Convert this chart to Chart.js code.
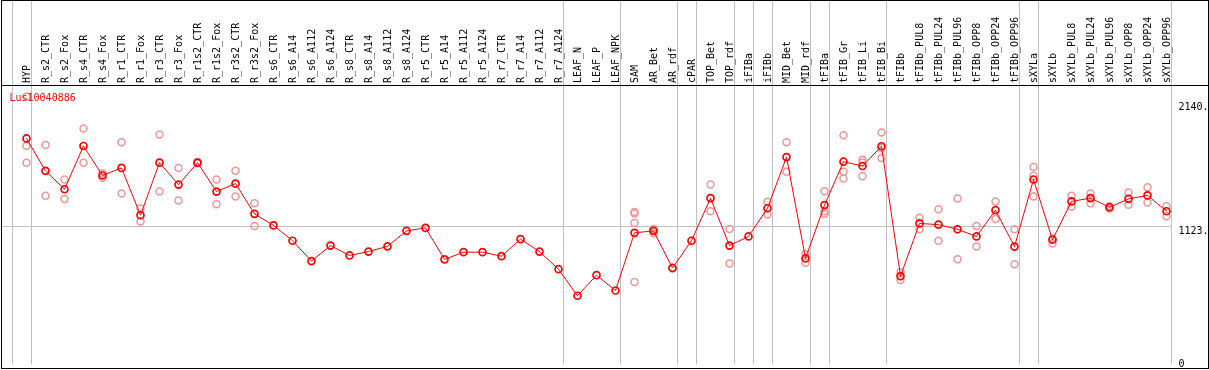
<!DOCTYPE html>
<html>
<head>
<meta charset="utf-8">
<script src="https://cdn.jsdelivr.net/npm/chart.js@4.4.1/dist/chart.umd.min.js"></script>
<style>
  html, body { margin: 0; padding: 0; background: #fff; }
  #wrap { width: 1209px; height: 370px; }
</style>
</head>
<body>
<div id="wrap"><canvas id="c" width="1209" height="370"></canvas></div>
<script>
const categories = ["HYP","R_s2_CTR","R_s2_Fox","R_s4_CTR","R_s4_Fox","R_r1_CTR","R_r1_Fox","R_r3_CTR","R_r3_Fox","R_r1s2_CTR","R_r1s2_Fox","R_r3s2_CTR","R_r3s2_Fox","R_s6_CTR","R_s6_A14","R_s6_A112","R_s6_A124","R_s8_CTR","R_s8_A14","R_s8_A112","R_s8_A124","R_r5_CTR","R_r5_A14","R_r5_A112","R_r5_A124","R_r7_CTR","R_r7_A14","R_r7_A112","R_r7_A124","LEAF_N","LEAF_P","LEAF_NPK","SAM","AR_Bet","AR_rdf","cPAR","TOP_Bet","TOP_rdf","iFIBa","iFIBb","MID_Bet","MID_rdf","tFIBa","tFIB_Gr","tFIB_Li","tFIB_Bi","tFIBb","tFIBb_PUL8","tFIBb_PUL24","tFIBb_PUL96","tFIBb_OPP8","tFIBb_OPP24","tFIBb_OPP96","sXYLa","sXYLb","sXYLb_PUL8","sXYLb_PUL24","sXYLb_PUL96","sXYLb_OPP8","sXYLb_OPP24","sXYLb_OPP96"];

// number of categories in each separated group
const groupSizes = [1,28,3,3,1,2,1,1,2,1,3,7,1,7];

const geneName = "Lus10040886";

const meanValues = [1839,1573,1422,1777,1535,1597,1209,1640,1460,1640,1403,1468,1220,
  1125,999,832,959,878,910,953,1080,1104,846,905,905,872,1012,910,765,
  547,716,590,
  1064,1080,775,999,1349,959,1034,1266,1686,854,1292,1648,1613,1775,
  708,1141,1131,1093,1034,1250,951,1502,1007,1322,1349,1274,1343,1371,1241];

const rep1 = [2183,1785,1502,1920,1516,1807,1263,1872,1597,1645,1502,1573,1306,
  null,null,null,null,null,null,null,null,null,null,null,null,null,null,null,null,null,null,null,
  1236,1095,771,null,1460,1096,null,1319,1807,891,1405,1866,1664,1888,
  741,1187,1258,1346,1120,1322,1093,1605,1020,1368,1387,1282,1395,1438,1282];

const rep2 = [1779,1368,1341,1640,1551,1387,1158,1403,1330,1635,1298,1363,1120,
  null,null,null,null,null,null,null,null,null,null,null,null,null,null,null,null,null,null,null,
  1222,1085,779,null,1242,813,null,1214,1565,818,1241,1565,1642,1678,
  676,1093,999,846,951,1177,805,1532,977,1279,1306,1263,1295,1314,1201];

const rep3 = [1640,
  null,null,null,null,null,null,null,null,null,null,null,null,null,null,null,null,null,null,null,null,null,null,null,null,null,null,null,null,null,null,null,
  1145,1061,null,null,null,null,null,null,null,null,1220,1511,1529,1760,
  null,null,null,null,null,null,null,1363,null,null,null,null,null,null,null];

const rep4 = [null,null,null,null,null,null,null,null,null,null,null,null,null,
  null,null,null,null,null,null,null,null,null,null,null,null,null,null,null,null,null,null,null,
  660,null,null,null,null,null,null,null,null,null,null,null,null,null,
  null,null,null,null,null,null,null,null,null,null,null,null,null,null,null];

const yTickValues = [0, 1123, 2140];
const yTickLabels = ["0", "1123.", "2140."];

const MONO = "'DejaVu Sans Mono', 'Liberation Mono', monospace";
const repColor = 'rgb(238,150,150)';

function repDataset(arr) {
  return {
    data: arr, showLine: false, order: 2,
    pointRadius: 3.5, pointBorderWidth: 1.5,
    pointBorderColor: repColor, pointBackgroundColor: 'rgba(0,0,0,0)',
    borderColor: repColor
  };
}

const decor = {
  id: 'decor',
  beforeDraw(chart) {
    const ctx = chart.ctx;
    ctx.save();
    ctx.fillStyle = '#fff';
    ctx.fillRect(0, 0, chart.width, chart.height);
    ctx.restore();
  },
  beforeDatasetsDraw(chart) {
    const ctx = chart.ctx, xs = chart.scales.x, ys = chart.scales.y;
    const c0 = xs.getPixelForValue(0);
    const step = xs.getPixelForValue(1) - c0;
    ctx.save();
    ctx.strokeStyle = 'rgb(192,192,192)';
    ctx.lineWidth = 1;
    const yMid = Math.round(ys.getPixelForValue(yTickValues[1])) + 0.5;
    let bounds = [-1];
    let idx = -1;
    groupSizes.forEach(g => { idx += g; bounds.push(idx); });
    const xEnd = Math.round(c0 + (bounds[bounds.length - 1] + 0.23) * step) + 0.5;
    ctx.beginPath();
    ctx.moveTo(1, yMid); ctx.lineTo(xEnd, yMid);
    ctx.stroke();
    bounds.forEach(b => {
      const x = Math.round(c0 + (b + 0.23) * step) + 0.5;
      ctx.beginPath();
      ctx.moveTo(x, 0); ctx.lineTo(x, chart.chartArea.bottom);
      ctx.stroke();
    });
    ctx.restore();
  },
  afterDraw(chart) {
    const ctx = chart.ctx, ys = chart.scales.y;
    ctx.save();
    ctx.strokeStyle = '#000';
    ctx.lineWidth = 1;
    ctx.strokeRect(1.5, 0.5, 1207, 368);
    ctx.beginPath();
    ctx.moveTo(1, chart.chartArea.top - 0.5); ctx.lineTo(1209, chart.chartArea.top - 0.5);
    ctx.stroke();
    ctx.font = '10px ' + MONO;
    ctx.fillStyle = '#f00';
    ctx.textBaseline = 'alphabetic';
    ctx.textAlign = 'left';
    ctx.fillText(geneName, 9.5, 101);
    ctx.fillStyle = '#000';
    yTickValues.forEach((v, i) => {
      const py = ys.getPixelForValue(v);
      const base = Math.min(py + 8.5, 367);
      ctx.fillText(yTickLabels[i], 1178.5, base);
    });
    ctx.restore();
  }
};

new Chart(document.getElementById('c'), {
  type: 'line',
  data: {
    labels: categories,
    datasets: [
      {
        data: meanValues, order: 0,
        borderColor: '#f00', borderWidth: 1,
        pointRadius: 3.5, pointBorderWidth: 1.7,
        pointBorderColor: '#f00', pointBackgroundColor: 'rgba(0,0,0,0)',
        tension: 0
      },
      repDataset(rep1), repDataset(rep2), repDataset(rep3), repDataset(rep4)
    ]
  },
  options: {
    responsive: false,
    animation: false,
    devicePixelRatio: 1,
    layout: { padding: { left: 17, right: 0, top: 0, bottom: 1 } },
    plugins: { legend: { display: false }, tooltip: { enabled: false } },
    scales: {
      x: {
        type: 'category', position: 'top', offset: true,
        grid: { display: false, drawTicks: false },
        border: { display: false },
        ticks: {
          autoSkip: false, maxRotation: 90, minRotation: 90,
          font: { family: MONO, size: 10 }, color: '#000', padding: 3,
          labelOffset: 13
        },
        afterFit(s) { s.height = 86; }
      },
      y: {
        position: 'right', min: -16, max: 2270,
        grid: { display: false }, border: { display: false },
        ticks: { display: false },
        afterFit(s) { s.width = 33; }
      }
    }
  },
  plugins: [decor]
});
</script>
</body>
</html>
